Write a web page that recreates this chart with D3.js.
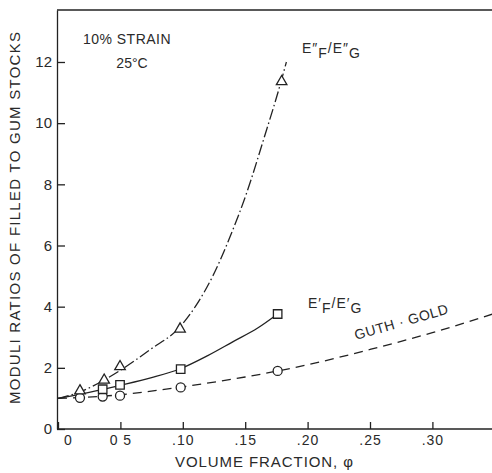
<!DOCTYPE html>
<html>
<head>
<meta charset="utf-8">
<script src="https://cdn.jsdelivr.net/npm/d3@7"></script>
<style>
  body { margin: 0; background: #fff; }
  text { font-family: "Liberation Sans", Arial, sans-serif; fill: #2a2a2a; }
</style>
</head>
<body>
<div id="chart"></div>
<script>
// tick labels (as printed)
var xTicks = [0, 0.05, 0.10, 0.15, 0.20, 0.25, 0.30];
var xTickLabels = ["0", "0 5", ".10", ".15", ".20", ".25", ".30"];
var yTicks = [0, 2, 4, 6, 8, 10, 12];

// measured points  [phi, ratio]
var lossPoints = [[0.0176, 1.25], [0.037, 1.6], [0.0497, 2.04], [0.0978, 3.27], [0.1792, 11.36]];      // E"F/E"G triangles
var storagePoints = [[0.0358, 1.3], [0.0497, 1.44], [0.0983, 1.96], [0.176, 3.76]];                   // E'F/E'G squares
var guthPoints = [[0.0176, 1.02], [0.0358, 1.06], [0.0497, 1.09], [0.0983, 1.36], [0.176, 1.9]];        // circles

// drawn curves
var lossCurve = [[0, 1.0], [0.018, 1.22], [0.037, 1.6], [0.05, 1.92], [0.074, 2.6], [0.098, 3.35],
                 [0.11, 4.0], [0.124, 5.0], [0.138, 6.3], [0.151, 7.7], [0.165, 9.5], [0.179, 11.4], [0.183, 12.0]];
var storageCurve = [[0, 1.0], [0.025, 1.2], [0.05, 1.43], [0.075, 1.68], [0.098, 1.97],
                    [0.12, 2.4], [0.14, 2.85], [0.16, 3.3], [0.176, 3.76]];
var guthCurve = [[0, 1.0], [0.05, 1.12], [0.10, 1.38], [0.15, 1.7], [0.20, 2.1], [0.25, 2.6], [0.30, 3.15], [0.35, 3.78]];

var W = 492, H = 473;
var svg = d3.select("#chart").append("svg")
    .attr("width", W)
    .attr("height", H);

var x = d3.scaleLinear().domain([0, 0.35]).range([58, 58 + 0.35 * 1248]);
var y = d3.scaleLinear().domain([0, 13.7]).range([429, 10]);

// frame: top line
svg.append("line")
    .attr("x1", 57).attr("x2", W)
    .attr("y1", y(13.7)).attr("y2", y(13.7))
    .attr("stroke", "#222").attr("stroke-width", 1.3);

// x axis
var xAxis = svg.append("g")
    .attr("transform", "translate(0," + y(0) + ")")
    .call(d3.axisBottom(x)
        .tickValues(xTicks)
        .tickFormat(function(d, i) { return xTickLabels[i]; })
        .tickSizeInner(-7)
        .tickSizeOuter(0)
        .tickPadding(6));
xAxis.select(".domain").attr("stroke", "#222").attr("stroke-width", 1.3)
    .attr("d", "M57,0H" + W);
xAxis.selectAll("line").attr("stroke", "#222").attr("stroke-width", 1.3);
xAxis.selectAll("text").attr("font-size", 14).attr("fill", "#2a2a2a")
    .attr("font-family", "Liberation Sans, Arial, sans-serif")
    .attr("letter-spacing", 1);
xAxis.selectAll(".tick").filter(function(d) { return d === 0; })
    .select("text").attr("dx", 10);

// y axis
var yAxis = svg.append("g")
    .attr("transform", "translate(57,0)")
    .call(d3.axisLeft(y)
        .tickValues(yTicks)
        .tickSizeInner(-8)
        .tickSizeOuter(0)
        .tickPadding(5));
yAxis.select(".domain").attr("stroke", "#222").attr("stroke-width", 1.3);
yAxis.selectAll("line").attr("stroke", "#222").attr("stroke-width", 1.3);
yAxis.selectAll("text").attr("font-size", 15).attr("fill", "#2a2a2a")
    .attr("font-family", "Liberation Sans, Arial, sans-serif");

// axis titles
svg.append("text")
    .attr("x", 264).attr("y", 467)
    .attr("text-anchor", "middle")
    .attr("font-size", 15)
    .attr("textLength", 178).attr("lengthAdjust", "spacing")
    .text("VOLUME FRACTION, \u03c6");

svg.append("text")
    .attr("transform", "translate(20,218) rotate(-90)")
    .attr("text-anchor", "middle")
    .attr("font-size", 15)
    .attr("textLength", 372).attr("lengthAdjust", "spacing")
    .text("MODULI RATIOS OF FILLED TO GUM STOCKS");

// curves
var line = d3.line()
    .x(function(d) { return x(d[0]); })
    .y(function(d) { return y(d[1]); })
    .curve(d3.curveMonotoneX);

svg.append("path").datum(lossCurve)
    .attr("d", line).attr("fill", "none")
    .attr("stroke", "#222").attr("stroke-width", 1.3)
    .attr("stroke-dasharray", "11,3,1.5,3");

svg.append("path").datum(storageCurve)
    .attr("d", line).attr("fill", "none")
    .attr("stroke", "#222").attr("stroke-width", 1.3);

svg.append("path").datum(guthCurve)
    .attr("d", line).attr("fill", "none")
    .attr("stroke", "#222").attr("stroke-width", 1.3)
    .attr("stroke-dasharray", "9,6");

// markers
function drawMarks(data, type, size) {
  svg.append("g").selectAll("path")
    .data(data)
    .enter()
    .append("path")
    .attr("transform", function(d) { return "translate(" + x(d[0]) + "," + y(d[1]) + ")"; })
    .attr("d", d3.symbol().type(type).size(size))
    .attr("fill", "#fff")
    .attr("stroke", "#222")
    .attr("stroke-width", 1.3);
}
drawMarks(guthPoints, d3.symbolCircle, 64);
drawMarks(storagePoints, d3.symbolSquare, 72);
drawMarks(lossPoints, d3.symbolTriangle, 48);

// annotations
svg.append("text").attr("x", 127).attr("y", 44)
    .attr("text-anchor", "middle").attr("font-size", 14)
    .attr("letter-spacing", 0.5)
    .text("10% STRAIN");
svg.append("text").attr("x", 132).attr("y", 68)
    .attr("text-anchor", "middle").attr("font-size", 14)
    .text("25\u00b0C");

var t1 = svg.append("text").attr("x", 302).attr("y", 53).attr("font-size", 14)
    .attr("letter-spacing", 1);
t1.append("tspan").text("E\u2033");
t1.append("tspan").attr("dy", 5).text("F");
t1.append("tspan").attr("dy", -5).text("/E\u2033");
t1.append("tspan").attr("dy", 5).text("G");

var t2 = svg.append("text").attr("x", 308).attr("y", 308).attr("font-size", 14)
    .attr("letter-spacing", 1);
t2.append("tspan").text("E\u2032");
t2.append("tspan").attr("dy", 5).text("F");
t2.append("tspan").attr("dy", -5).text("/E\u2032");
t2.append("tspan").attr("dy", 5).text("G");

svg.append("text")
    .attr("transform", "translate(356,340) rotate(-16)")
    .attr("font-size", 14)
    .attr("letter-spacing", 0.5)
    .text("GUTH \u00b7 GOLD");
</script>
</body>
</html>
